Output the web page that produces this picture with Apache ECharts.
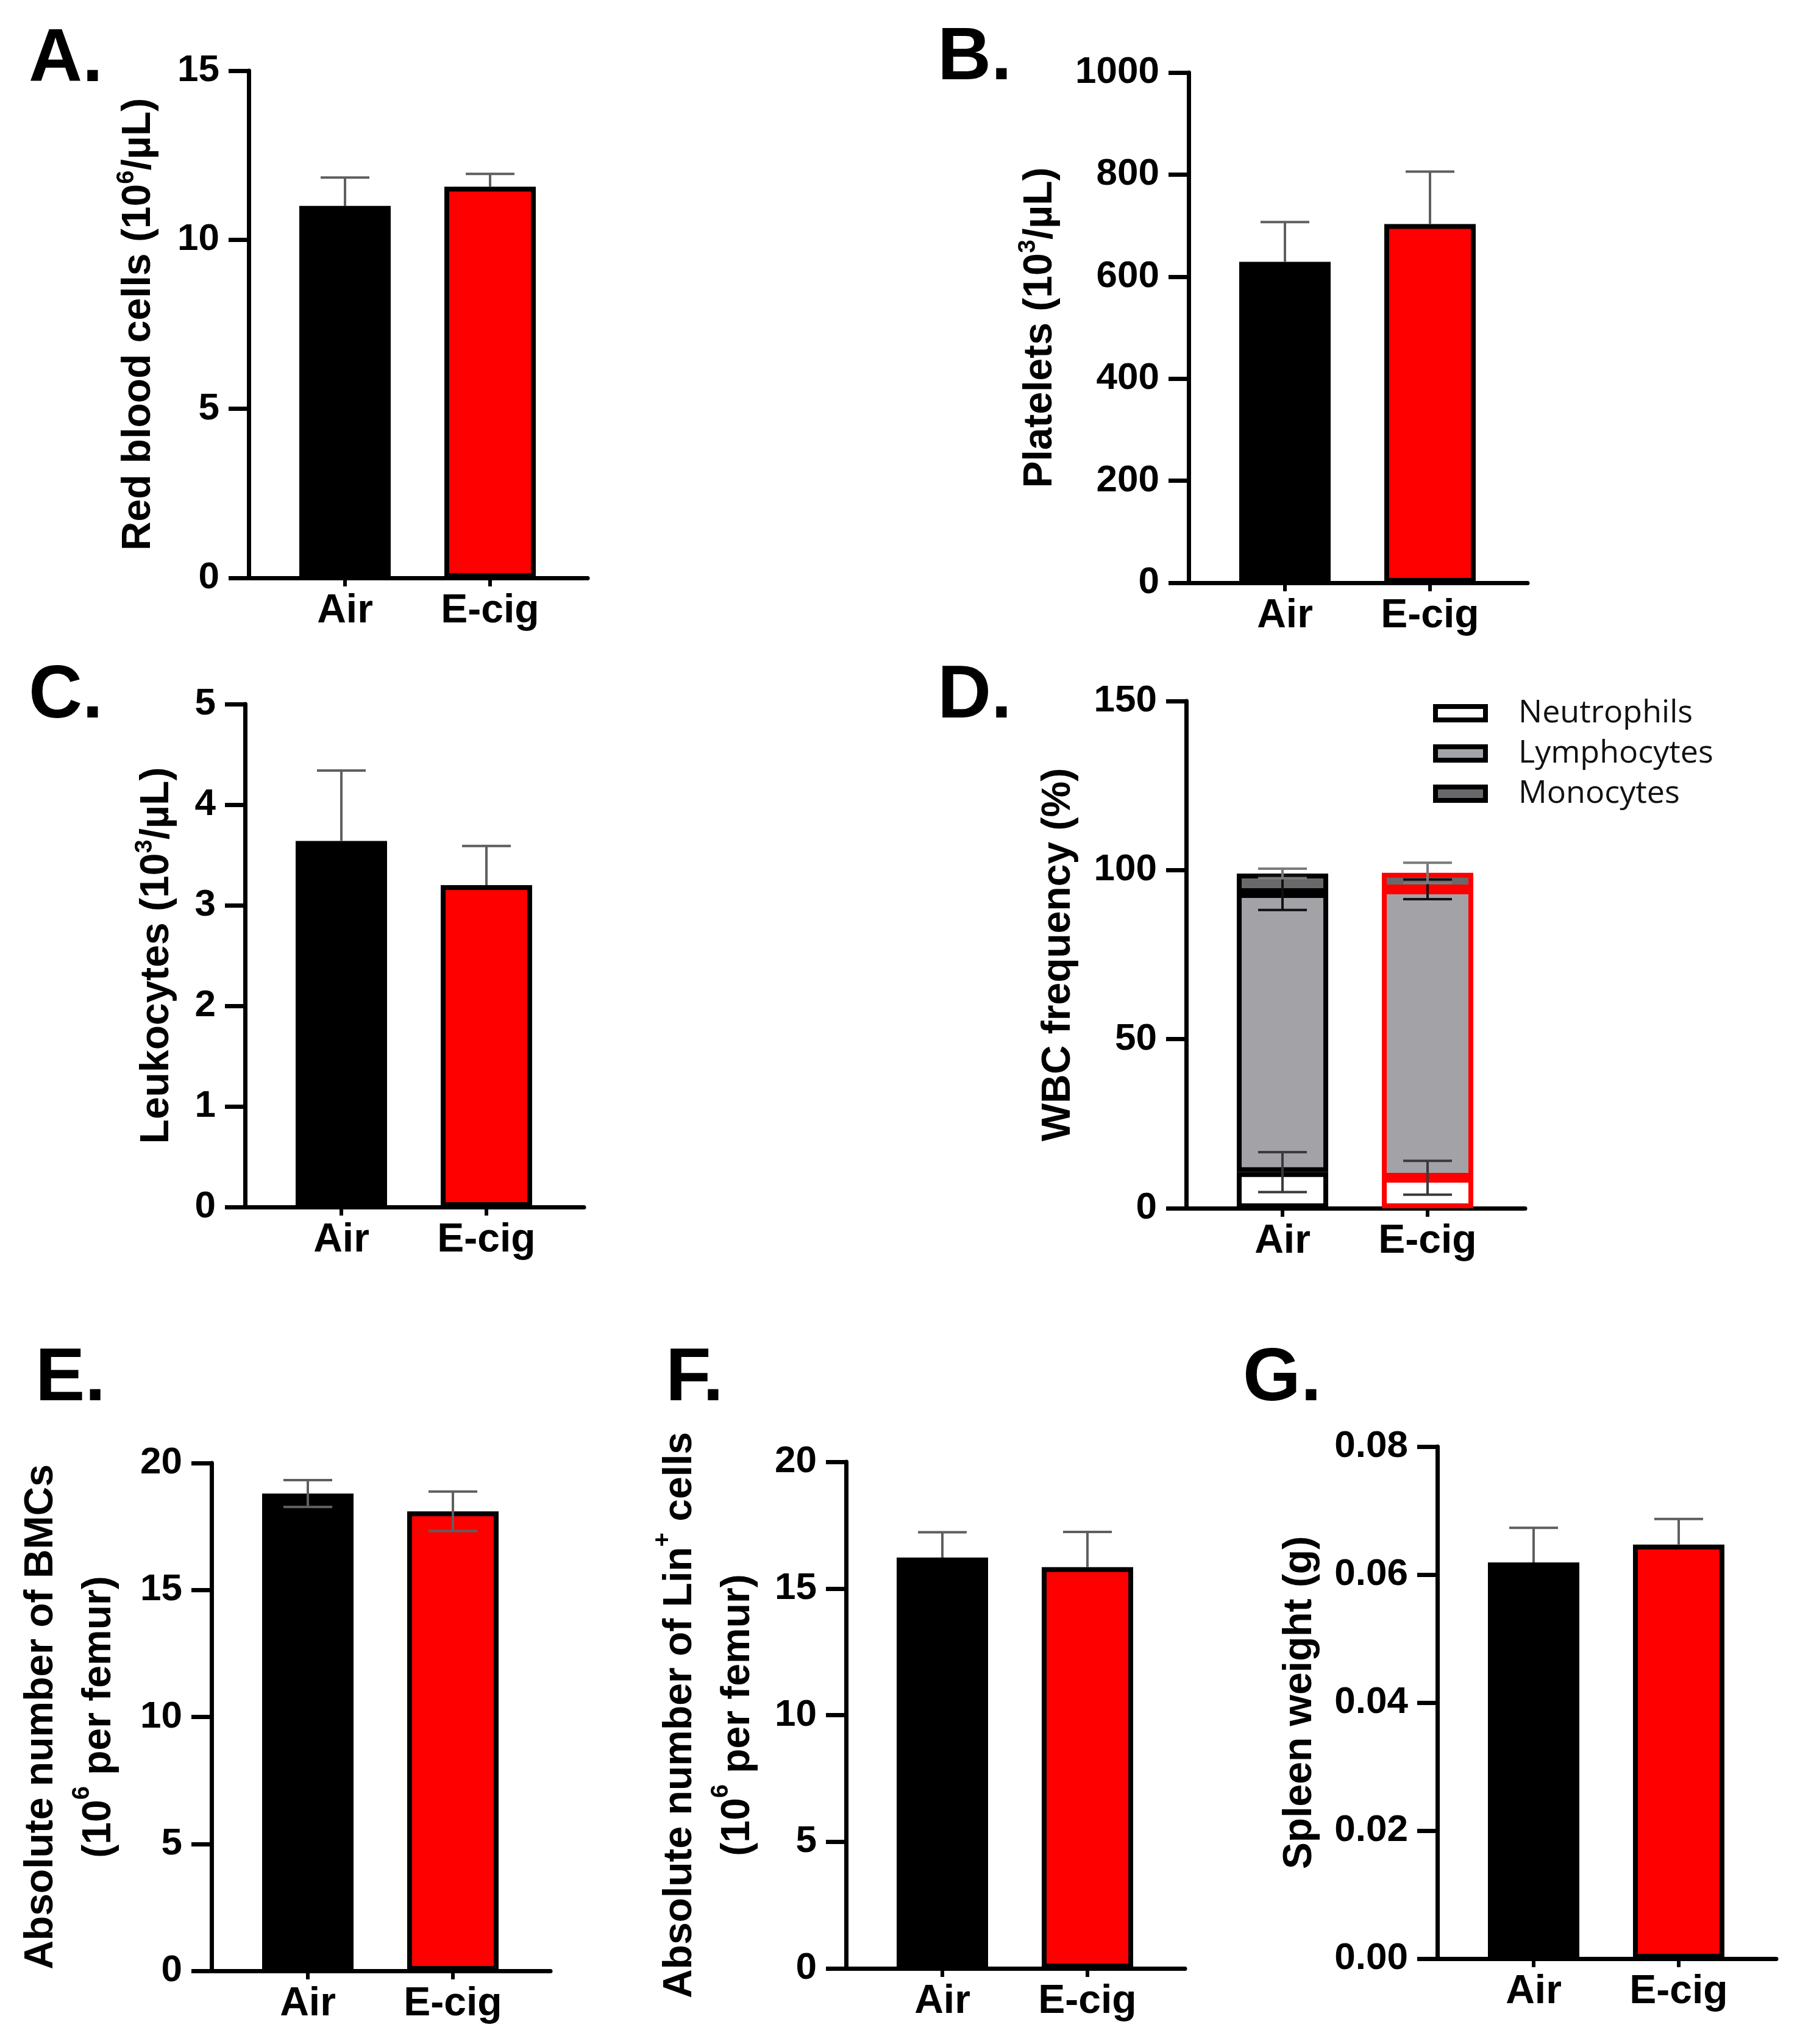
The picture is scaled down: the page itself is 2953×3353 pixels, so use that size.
<!DOCTYPE html>
<html>
<head>
<meta charset="utf-8">
<script src="https://cdn.jsdelivr.net/npm/echarts@6/dist/echarts.min.js"></script>
<style>
  html, body { margin: 0; padding: 0; background: #fff; }
  #chart { width: 2953px; height: 3353px; }
</style>
</head>
<body>
<div id="chart"></div>
<script>
// groups on the x axis of every panel
const groups = ['Air', 'E-cig'];

// A. red blood cells (10^6/uL)
const rbcMean = [11.0, 11.57];
const rbcSem = [0.84, 0.38];
// B. platelets (10^3/uL)
const plateletMean = [629, 703];
const plateletSem = [78, 103];
// C. leukocytes (10^3/uL)
const leukocyteMean = [3.64, 3.20];
const leukocyteSem = [0.70, 0.39];
// D. WBC frequency (%), stacked
const wbcTypes = ['Neutrophils', 'Lymphocytes', 'Monocytes'];
const neutrophilPct = [10.7, 9.0];
const neutrophilSem = [5.9, 5.0];
const lymphocytePct = [82.5, 85.3];
const lymphocyteSem = [5.0, 2.9];
const monocytePct = [5.8, 4.9];
const monocyteSem = [1.4, 3.0];
// E. absolute number of BMCs (10^6 per femur)
const bmcMean = [18.8, 18.1];
const bmcSem = [0.53, 0.78];
// F. absolute number of Lin+ cells (10^6 per femur)
const linMean = [16.22, 15.84];
const linSem = [1.0, 1.39];
// G. spleen weight (g)
const spleenMean = [0.0619, 0.0647];
const spleenSem = [0.0054, 0.0040];

const FONT = '"Liberation Sans", Arial, Helvetica, sans-serif';
const BAR_COLORS = ['#000000', '#ff0000'];
const WBC_FILLS = ['#ffffff', '#a3a2a7', '#69696b'];
const WBC_ERR = ['#3a3a3a', '#111111', '#7a7a7a'];

const FRAME_W = 556;   // length of x axis line
const BAR_OFF = 39;    // bars grid starts this far right of y axis
const BAR_W = 476;     // width of bars grid (2 bands)

/**
 * error bar renderer
 * @param {string} color - stroke
 * @param {boolean} both - draw lower half too
 */
const errorBar = (color, both) => (params, api) => {
  const x = api.value(0);
  const y = api.value(1);
  const e = api.value(2);
  const hi = api.coord([x, y + e]);
  const lo = api.coord([x, both ? y - e : y]);
  const half = 40;
  const style = { stroke: color, lineWidth: 4 };
  const children = [
    { type: 'line', shape: { x1: hi[0], y1: hi[1], x2: lo[0], y2: lo[1] }, style },
    { type: 'line', shape: { x1: hi[0] - half, y1: hi[1], x2: hi[0] + half, y2: hi[1] }, style }
  ];
  if (both) {
    children.push({ type: 'line', shape: { x1: lo[0] - half, y1: lo[1], x2: lo[0] + half, y2: lo[1] }, style });
  }
  return { type: 'group', children };
};

const nameStyle = (lineHeight) => ({
  fontFamily: FONT,
  fontSize: 66,
  fontWeight: 'bold',
  color: '#000',
  lineHeight,
  rich: {
    s: { fontFamily: FONT, fontSize: 40, fontWeight: 'bold', color: '#000', verticalAlign: 'top', lineHeight: 40 }
  }
});

const panels = [
  { letter: 'A.', lx: 47, ly: 99, axisX: 408, top: 116, zero: 948, max: 15, interval: 5,
    name: 'Red blood cells (10{s|6}/µL)', nameGap: 140, lh: 80, mean: rbcMean, sem: rbcSem },
  { letter: 'B.', lx: 1538, ly: 96, axisX: 1950, top: 119, zero: 956, max: 1000, interval: 200,
    name: 'Platelets (10{s|3}/µL)', nameGap: 203, lh: 80, mean: plateletMean, sem: plateletSem },
  { letter: 'C.', lx: 47, ly: 1143, axisX: 402, top: 1155, zero: 1980, max: 5, interval: 1,
    name: 'Leukocytes (10{s|3}/µL)', nameGap: 104, lh: 80, mean: leukocyteMean, sem: leukocyteSem },
  { letter: 'D.', lx: 1538, ly: 1143, axisX: 1946, top: 1150, zero: 1982, max: 150, interval: 50,
    name: 'WBC frequency (%)', nameGap: 169, lh: 80, stacked: true },
  { letter: 'E.', lx: 58, ly: 2263, axisX: 347, top: 2400, zero: 3233, max: 20, interval: 5,
    name: 'Absolute number of BMCs\n(10{s|6} per femur)', nameGap: 137, lh: 95,
    mean: bmcMean, sem: bmcSem, both: true },
  { letter: 'F.', lx: 1092, ly: 2263, axisX: 1388, top: 2398, zero: 3229, max: 20, interval: 5,
    name: 'Absolute number of Lin{s|+} cells\n(10{s|6} per femur)', nameGap: 130, lh: 95,
    mean: linMean, sem: linSem },
  { letter: 'G.', lx: 2039, ly: 2263, axisX: 2358, top: 2373, zero: 3213, max: 0.08, interval: 0.02,
    name: 'Spleen weight (g)', nameGap: 185, lh: 80, mean: spleenMean, sem: spleenSem,
    fmt: v => v.toFixed(2) }
];

const grid = [];
const xAxis = [];
const yAxis = [];
const series = [];
const graphic = [];

panels.forEach((p, idx) => {
  const fi = idx * 2;      // frame grid: axis lines, ticks, names
  const bi = idx * 2 + 1;  // bars grid
  const h = p.zero - p.top;

  grid.push({ left: p.axisX, top: p.top, width: FRAME_W, height: h, containLabel: false, outerBoundsMode: 'none' });
  grid.push({ left: p.axisX + BAR_OFF, top: p.top, width: BAR_W, height: h, containLabel: false, outerBoundsMode: 'none' });

  xAxis.push({
    gridIndex: fi, type: 'value', min: 0, max: 1,
    axisLine: { show: true, onZero: false, lineStyle: { color: '#000', width: 7 } },
    axisTick: { show: false }, axisLabel: { show: false }, splitLine: { show: false }
  });
  xAxis.push({
    gridIndex: bi, type: 'category', data: groups,
    axisLine: { show: false },
    axisTick: { show: true, alignWithLabel: true, length: 14, lineStyle: { color: '#000', width: 6 } },
    axisLabel: { margin: 22, fontFamily: FONT, fontSize: 66, fontWeight: 'bold', color: '#000' }
  });

  yAxis.push({
    gridIndex: fi, type: 'value', min: 0, max: p.max, interval: p.interval,
    axisLine: { show: true, lineStyle: { color: '#000', width: 7 } },
    axisTick: { show: true, length: 33, lineStyle: { color: '#000', width: 7 } },
    axisLabel: { margin: 48, fontFamily: FONT, fontSize: 62, fontWeight: 'bold', color: '#000',
      formatter: p.fmt || (v => String(v)) },
    splitLine: { show: false },
    name: p.name, nameLocation: 'middle', nameRotate: 90, nameGap: p.nameGap,
    nameTextStyle: nameStyle(p.lh)
  });
  yAxis.push({ gridIndex: bi, type: 'value', min: 0, max: p.max, interval: p.interval, show: false });

  graphic.push({
    type: 'text', x: p.lx, y: p.ly,
    style: { text: p.letter, fontFamily: FONT, fontSize: 122, fontWeight: 'bold', fill: '#000',
      align: 'left', verticalAlign: 'middle' }
  });

  if (!p.stacked) {
    series.push({
      type: 'bar', xAxisIndex: bi, yAxisIndex: bi, barWidth: 150, z: 2,
      itemStyle: { borderColor: '#000', borderWidth: 8 },
      data: p.mean.map((v, i) => ({ value: v, itemStyle: { color: BAR_COLORS[i] } }))
    });
    series.push({
      type: 'custom', xAxisIndex: bi, yAxisIndex: bi, z: 5,
      renderItem: errorBar('#5f5f5f', !!p.both),
      data: p.mean.map((v, i) => [i, v, p.sem[i]])
    });
  } else {
    const pcts = [neutrophilPct, lymphocytePct, monocytePct];
    const sems = [neutrophilSem, lymphocyteSem, monocyteSem];
    pcts.forEach((arr, s) => {
      series.push({
        name: wbcTypes[s], type: 'bar', stack: 'wbc', xAxisIndex: bi, yAxisIndex: bi, barWidth: 150, z: 2,
        itemStyle: { color: WBC_FILLS[s], borderColor: '#000', borderWidth: 8 },
        data: arr.map((v, i) => ({ value: v, itemStyle: { borderColor: BAR_COLORS[i] } }))
      });
    });
    // error bars sit on the top edge of each stacked segment
    pcts.forEach((arr, s) => {
      series.push({
        type: 'custom', xAxisIndex: bi, yAxisIndex: bi, z: 5 + s,
        renderItem: errorBar(WBC_ERR[s], true),
        data: arr.map((v, i) => {
          let top = 0;
          for (let k = 0; k <= s; k++) top += pcts[k][i];
          return [i, top, sems[s][i]];
        })
      });
    });
  }
});

const chart = echarts.init(document.getElementById('chart'), null, { renderer: 'canvas' });
chart.setOption({
  animation: false,
  backgroundColor: '#fff',
  grid, xAxis, yAxis, series, graphic,
  legend: {
    data: wbcTypes, orient: 'vertical', left: 2346, top: 1139,
    icon: 'rect', itemWidth: 82, itemHeight: 22, itemGap: 14, selectedMode: false,
    itemStyle: { borderColor: '#000', borderWidth: 8 },
    textStyle: { fontFamily: '"Open Sans", ' + FONT, fontSize: 52, color: '#111', lineHeight: 52, padding: [0, 0, 0, 49] }
  }
});
</script>
</body>
</html>
